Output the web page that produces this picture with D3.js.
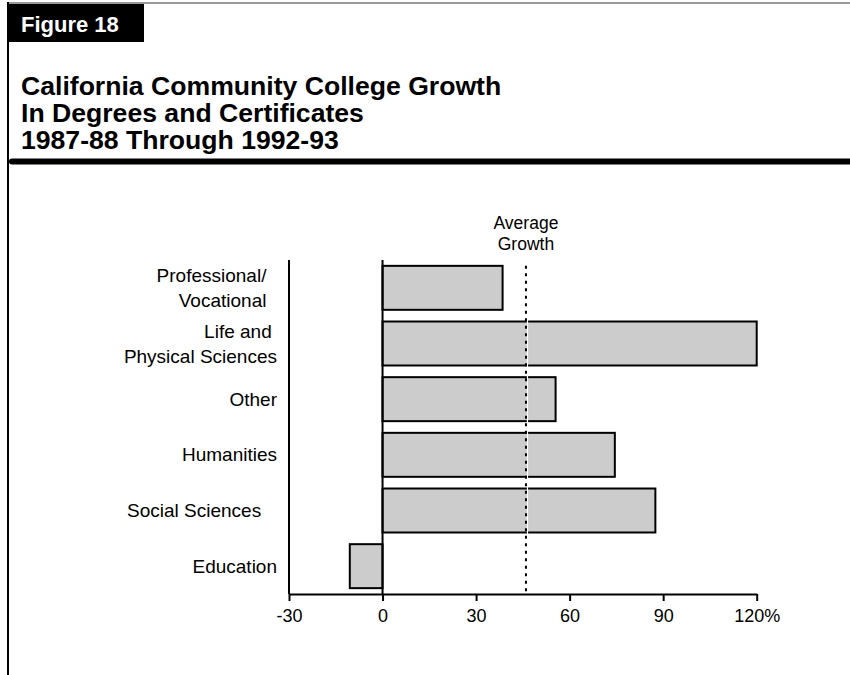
<!DOCTYPE html>
<html>
<head>
<meta charset="utf-8">
<script src="https://cdn.jsdelivr.net/npm/d3@7"></script>
<style>
  html, body { margin: 0; padding: 0; background: #fff; }
  svg { display: block; font-family: "Liberation Sans", Arial, Helvetica, sans-serif; }
  .cat { white-space: pre; }
</style>
</head>
<body>
<svg id="chart" width="850" height="675"></svg>
<script>
// Degree and certificate growth by field, 1987-88 through 1992-93 (percent)
const categories = [
  "Professional/  \nVocational  ",
  "Life and \nPhysical Sciences",
  "Other",
  "Humanities",
  "Social Sciences   ",
  "Education"
];
const growth = [38.5, 120, 55.5, 74.5, 87.5, -10.5];
const averageGrowth = 46;
const tickValues = [-30, 0, 30, 60, 90, 120];
const tickLabels = ["-30", "0", "30", "60", "90", "120%"];
const figureLabel = "Figure 18";
const titleLines = [
  "California Community College Growth",
  "In Degrees and Certificates",
  "1987-88 Through 1992-93"
];
const averageLabel = ["Average", "Growth"];

const W = 850, H = 675;
const svg = d3.select("#chart");

// ---- frame and heading ----
svg.append("line")
  .attr("x1", 8).attr("x2", W).attr("y1", 3).attr("y2", 3)
  .attr("stroke", "#777").attr("stroke-width", 1.5);
svg.append("line")
  .attr("x1", 8).attr("x2", 8).attr("y1", 2).attr("y2", H)
  .attr("stroke", "#000").attr("stroke-width", 2);

svg.append("rect")
  .attr("x", 9).attr("y", 4).attr("width", 135).attr("height", 38)
  .attr("fill", "#000");
svg.append("text")
  .attr("x", 21).attr("y", 32)
  .attr("fill", "#fff").attr("font-weight", "bold").attr("font-size", 22)
  .text(figureLabel);

svg.append("g").selectAll("text")
  .data(titleLines)
  .join("text")
  .attr("x", 21)
  .attr("y", (d, i) => 95 + i * 27)
  .attr("font-weight", "bold").attr("font-size", 26.6)
  .attr("fill", "#000")
  .text(d => d);

svg.append("line")
  .attr("x1", 12).attr("x2", W + 5).attr("y1", 161.5).attr("y2", 161.5)
  .attr("stroke", "#000").attr("stroke-width", 6).attr("stroke-linecap", "round");

// ---- scales ----
const x = d3.scaleLinear().domain([-30, 120]).range([289, 756.7]);
const y = d3.scaleBand()
  .domain(d3.range(categories.length))
  .range([260, 594])
  .paddingInner(0.21)
  .paddingOuter(0.105);

const plotTop = y.range()[0], plotBottom = y.range()[1];

// ---- bars ----
svg.append("g").selectAll("rect")
  .data(growth)
  .join("rect")
  .attr("x", d => x(Math.min(0, d)))
  .attr("y", (d, i) => y(i))
  .attr("width", d => Math.abs(x(d) - x(0)))
  .attr("height", y.bandwidth())
  .attr("fill", "#cccccc")
  .attr("stroke", "#000")
  .attr("stroke-width", 2);

// ---- average growth reference line ----
const avgX = x(averageGrowth);
svg.append("line")
  .attr("x1", avgX + 1.5).attr("x2", avgX + 1.5)
  .attr("y1", y(0)).attr("y2", plotBottom - 1)
  .attr("stroke", "#fff").attr("stroke-width", 1.2);
svg.append("line")
  .attr("x1", avgX).attr("x2", avgX)
  .attr("y1", y(0)).attr("y2", plotBottom)
  .attr("stroke", "#000").attr("stroke-width", 2)
  .attr("stroke-dasharray", "3,4.5");

svg.append("g").selectAll("text")
  .data(averageLabel)
  .join("text")
  .attr("x", avgX)
  .attr("y", (d, i) => 229 + i * 21)
  .attr("text-anchor", "middle")
  .attr("font-size", 17.5)
  .attr("fill", "#000")
  .text(d => d);

// ---- vertical axis lines (left edge and zero) ----
svg.append("line")
  .attr("x1", x(-30)).attr("x2", x(-30))
  .attr("y1", plotTop).attr("y2", plotBottom)
  .attr("stroke", "#000").attr("stroke-width", 2);
svg.append("line")
  .attr("x1", x(0)).attr("x2", x(0))
  .attr("y1", plotTop).attr("y2", plotBottom)
  .attr("stroke", "#000").attr("stroke-width", 2);

// ---- x axis ----
const xAxis = d3.axisBottom(x)
  .tickValues(tickValues)
  .tickFormat((d, i) => tickLabels[i])
  .tickSize(7)
  .tickSizeOuter(0)
  .tickPadding(8);

const gx = svg.append("g")
  .attr("transform", `translate(0,${plotBottom})`)
  .call(xAxis);
gx.select(".domain").attr("stroke", "#000").attr("stroke-width", 2);
gx.selectAll(".tick line").attr("stroke", "#000").attr("stroke-width", 2);
gx.selectAll(".tick text")
  .attr("font-size", 18)
  .attr("font-family", "'Liberation Sans', Arial, sans-serif")
  .attr("fill", "#000");

// ---- category labels ----
const lineGap = 25;
const labels = svg.append("g").selectAll("text")
  .data(categories)
  .join("text")
  .attr("class", "cat")
  .attr("text-anchor", "end")
  .attr("font-size", 19)
  .attr("fill", "#000");

labels.each(function (d, i) {
  const lines = d.split("\n");
  const cy = y(i) + y.bandwidth() / 2;
  const t = d3.select(this);
  lines.forEach((ln, k) => {
    t.append("tspan")
      .attr("x", 277)
      .attr("y", cy + (k - (lines.length - 1) / 2) * lineGap)
      .attr("dy", "0.35em")
      .text(ln);
  });
});
</script>
</body>
</html>
